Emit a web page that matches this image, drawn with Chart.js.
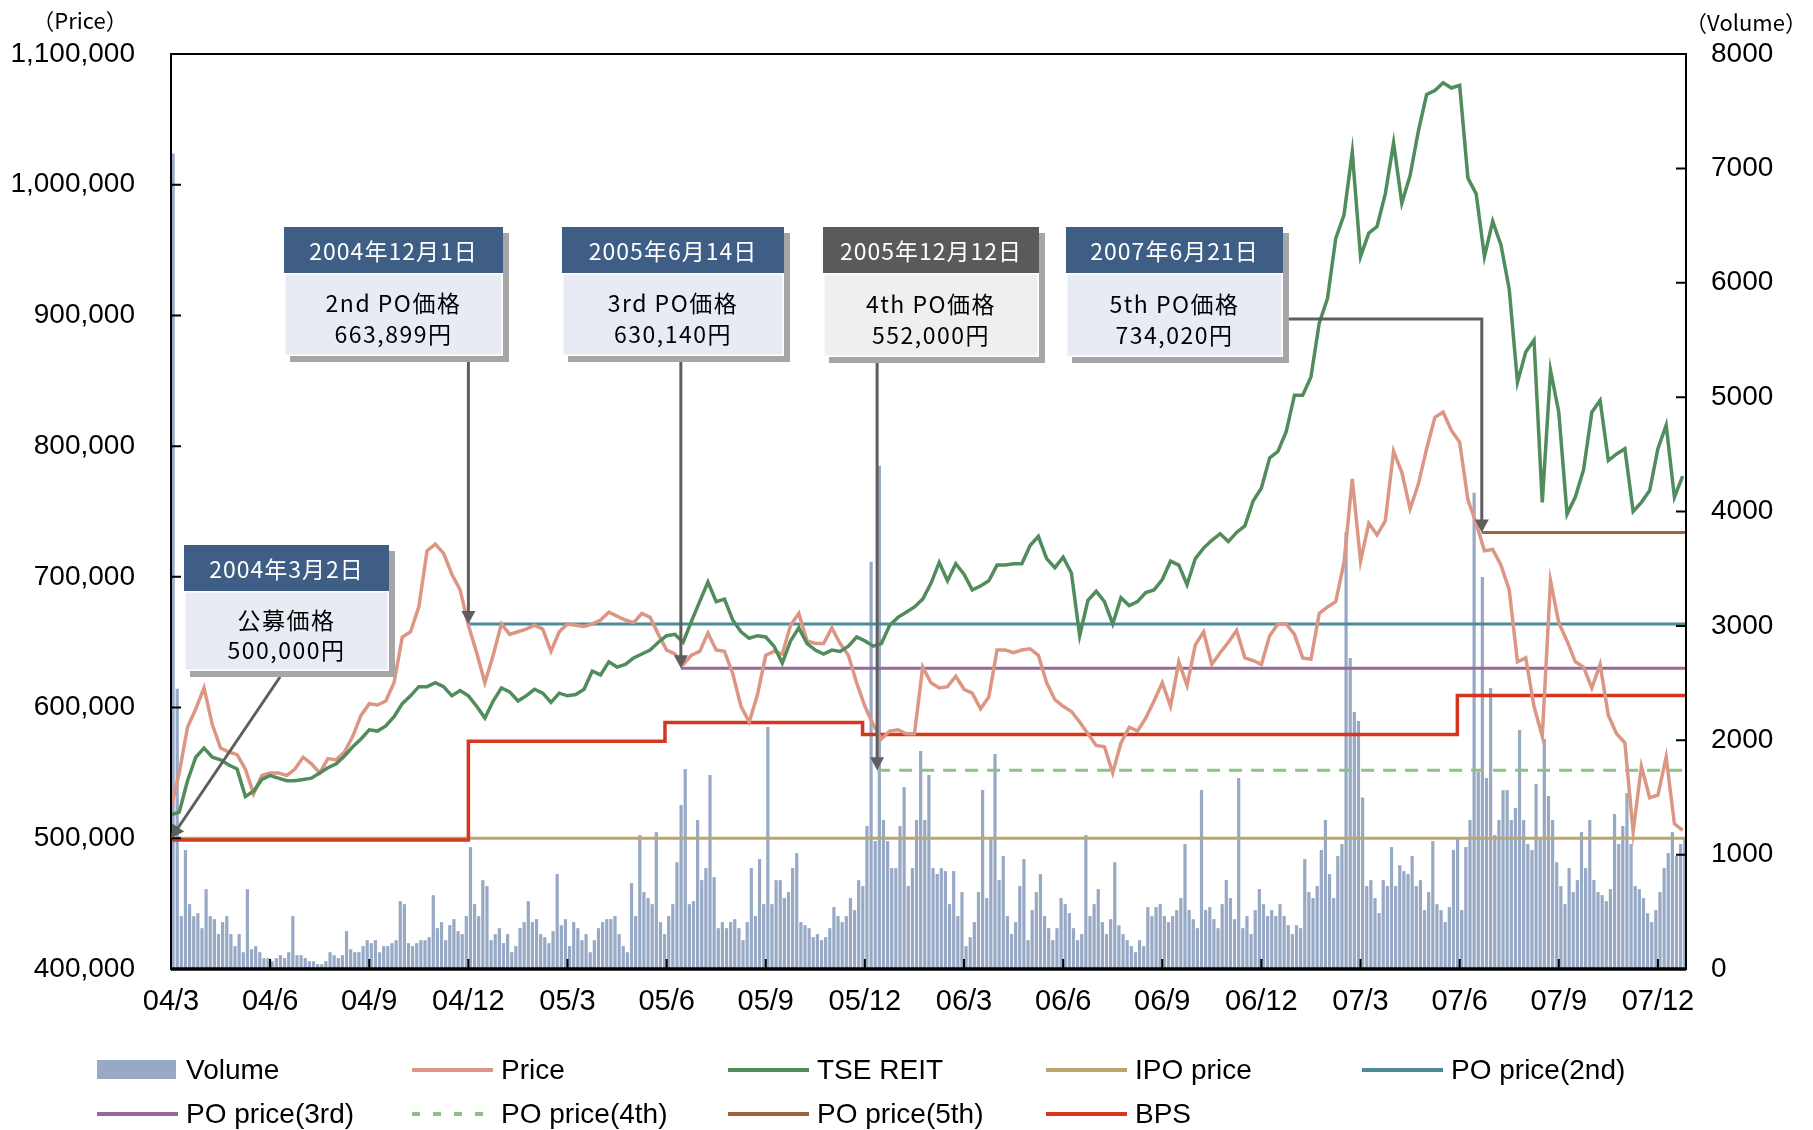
<!DOCTYPE html>
<html>
<head>
<meta charset="utf-8">
<title>Price, volume and TSE REIT</title>
<script src="https://cdn.jsdelivr.net/npm/chart.js@4.4.1/dist/chart.umd.min.js"></script>
<style>
  html, body { margin: 0; padding: 0; background: #fff; }
  canvas { display: block; }
</style>
</head>
<body>
<canvas id="myChart" width="1813" height="1130"></canvas>
<script>
// x is counted in months from the start of 2004/3
// price and TSE REIT (scaled to the price axis), one value per quarter month, thousand yen
const weekStep = 0.25;
const priceK = [
    523, 550, 585, 599, 615, 587, 569, 566,
    564, 553, 534, 548, 550, 550, 548, 553,
    562, 557, 550, 561, 560, 566, 578, 594,
    603, 602, 605, 619, 654, 658, 677, 720,
    725, 718, 702, 690, 663, 642, 619, 640,
    664, 656, 658, 660, 663, 660, 643, 658,
    664, 663, 662, 664, 667, 673, 670, 667,
    665, 672, 669, 656, 644, 641, 633, 640,
    643, 657, 644, 643, 626, 601, 589, 610,
    640, 643, 641, 663, 672, 651, 649, 649,
    661, 649, 640, 619, 601, 587, 576, 582,
    583, 580, 580, 631, 619, 615, 616, 624,
    614, 611, 599, 608, 644, 644, 642, 644,
    645, 640, 619, 606, 601, 597, 589, 580,
    571, 570, 550, 573, 585, 582, 592, 605,
    619, 601, 635, 617, 648, 658, 633, 642,
    650, 659, 638, 636, 633, 655, 664, 664,
    656, 638, 637, 672, 677, 681, 711, 775,
    712, 741, 732, 743, 796, 780, 752, 771,
    798, 822, 826, 812, 803, 759, 741, 720,
    721, 709, 690, 635, 638, 601, 578, 697,
    665, 651, 635, 631, 615, 633, 594, 580,
    573, 505, 555, 531, 533, 562, 511, 506
];
const reitK = [
    518, 520, 544, 562, 569, 562, 560, 556,
    553, 532, 536, 545, 548, 546, 544, 544,
    545, 546, 550, 554, 557, 563, 570, 576,
    583, 582, 586, 593, 603, 609, 616, 616,
    619, 616, 609, 613, 609, 601, 592, 605,
    615, 612, 605, 609, 614, 611, 604, 611,
    609, 610, 614, 628, 625, 635, 631, 633,
    638, 641, 644, 650, 655, 656, 650, 666,
    681, 696, 681, 683, 667, 658, 653, 655,
    654, 647, 634, 651, 661, 649, 644, 641,
    644, 643, 647, 654, 651, 647, 649, 663,
    669, 673, 677, 683, 695, 711, 697, 710,
    702, 690, 693, 697, 709, 709, 710, 710,
    724, 731, 714, 707, 715, 703, 655, 682,
    689, 681, 664, 684, 678, 681, 688, 690,
    698, 712, 709, 694, 714, 722, 728, 733,
    727, 734, 739, 758, 768, 791, 796, 811,
    839, 839, 853, 894, 913, 959, 977, 1025,
    945, 963, 968, 993, 1032, 986, 1007, 1041,
    1069, 1072, 1078, 1074, 1076, 1005, 993, 945,
    972, 954, 920, 849, 872, 881, 757, 858,
    826, 748, 761, 782, 826, 835, 789, 794,
    798, 750, 757, 766, 798, 816, 761, 777
];
// volume, one value per eighth of a month (one row per month)
const volStep = 0.125;
const volume = [
    7130, 2450, 462, 1040, 567, 462, 488, 357,
    698, 462, 436, 305, 410, 462, 305, 200,
    305, 147, 698, 173, 200, 147, 95, 95,
    68, 95, 121, 95, 147, 462, 121, 121,
    95, 68, 68, 42, 42, 68, 147, 121,
    95, 121, 331, 173, 147, 147, 200, 252,
    226, 252, 147, 200, 200, 226, 252, 593,
    567, 226, 200, 226, 252, 252, 278, 646,
    357, 410, 252, 383, 436, 331, 305, 462,
    1066, 567, 462, 777, 725, 252, 305, 357,
    226, 305, 147, 200, 357, 410, 593, 410,
    436, 305, 278, 226, 331, 830, 383, 436,
    200, 410, 357, 252, 305, 147, 252, 357,
    410, 436, 436, 462, 305, 200, 147, 751,
    462, 1171, 672, 620, 567, 1197, 410, 305,
    462, 567, 934, 1433, 1748, 567, 593, 1302,
    777, 882, 1696, 803, 357, 410, 357, 410,
    436, 357, 252, 410, 882, 462, 961, 567,
    2116, 567, 777, 777, 620, 672, 882, 1013,
    410, 383, 357, 278, 305, 252, 278, 357,
    541, 462, 410, 462, 620, 515, 777, 725,
    1250, 3560, 1118, 4400, 1302, 1118, 882, 882,
    1250, 1590, 725, 882, 1302, 1906, 1302, 1696,
    882, 830, 882, 856, 567, 856, 462, 672,
    200, 278, 410, 672, 1564, 620, 1145, 1880,
    777, 987, 462, 305, 410, 725, 961, 252,
    515, 672, 830, 462, 357, 252, 357, 620,
    567, 488, 357, 252, 305, 1171, 462, 567,
    698, 410, 305, 436, 934, 383, 305, 252,
    200, 147, 252, 200, 541, 462, 541, 567,
    462, 410, 462, 515, 620, 1092, 515, 436,
    357, 1564, 515, 541, 436, 357, 567, 777,
    620, 436, 1670, 357, 462, 305, 515, 698,
    567, 462, 515, 462, 567, 462, 383, 305,
    383, 357, 961, 672, 620, 725, 1040, 1302,
    830, 620, 987, 1092, 3820, 2720, 2247, 2168,
    1500, 725, 777, 620, 488, 777, 725, 1066,
    725, 908, 856, 830, 987, 725, 777, 515,
    672, 1118, 567, 515, 410, 541, 1040, 1145,
    515, 1066, 1302, 4163, 1722, 3428, 1670, 2457,
    1171, 1302, 1564, 1564, 1302, 1407, 2090, 1302,
    1092, 1040, 1617, 1145, 2011, 1512, 1302, 934,
    725, 567, 882, 672, 777, 1197, 882, 1302,
    777, 672, 646, 593, 698, 1355, 1092, 1250,
    1538, 1092, 725, 698, 620, 488, 410, 515,
    672, 882, 1013, 1197, 987, 1092, 1145
];
const bpsMonths = [0, 9, 14.95, 20.93, 38.93];
const bpsValues = [498600, 574300, 588500, 579400, 609200];

const offerLabels = ['IPO price', 'PO price(2nd)', 'PO price(3rd)', 'PO price(4th)', 'PO price(5th)'];
const offerMonths = [0, 9, 15.43, 21.37, 39.67];
const offerPrices = [500000, 663899, 630140, 552000, 734020];

const noteDates = ['2004年3月2日', '2004年12月1日', '2005年6月14日', '2005年12月12日', '2007年6月21日'];
const noteTitles = ['公募価格', '2nd PO価格', '3rd PO価格', '4th PO価格', '5th PO価格'];
const noteAmounts = ['500,000円', '663,899円', '630,140円', '552,000円', '734,020円'];

const xTickMonths = [0, 3, 6, 9, 12, 15, 18, 21, 24, 27, 30, 33, 36, 39, 42, 45];
const xTickLabels = ['04/3', '04/6', '04/9', '04/12', '05/3', '05/6', '05/9', '05/12',
                     '06/3', '06/6', '06/9', '06/12', '07/3', '07/6', '07/9', '07/12'];
const lastMonth = 45.85;

// ---- styles / layout ----
const offerColors = ['#BCA66C', '#4E8A9A', '#9B679A', '#8DC186', '#A0633F'];
const sansFont = '"Liberation Sans", Arial, sans-serif';
const jpFont = '"Noto Sans CJK JP", sans-serif';
const noteBoxes = [
    { x: 184, y: 545, w: 205, head: 46, body: 80, dark: false, arrow: 'diag', startDx: 96 },
    { x: 284, y: 227, w: 219, head: 46, body: 83, dark: false, arrow: 'down' },
    { x: 562, y: 227, w: 222, head: 46, body: 83, dark: false, arrow: 'down' },
    { x: 823, y: 227, w: 216, head: 46, body: 84, dark: true, arrow: 'down' },
    { x: 1066, y: 227, w: 217, head: 46, body: 84, dark: false, arrow: 'elbow', elbowDy: 92 }
];
const legendCols = [97, 412, 728, 1046, 1362];
const legendRows = [1070, 1114];

const toPoints = (vals, step, k, shift) => vals.map((v, i) => ({ x: (i + (shift || 0)) * step, y: v * k }));

const bpsData = bpsMonths.map((m, i) => ({ x: m, y: bpsValues[i] }));
bpsData.push({ x: lastMonth, y: bpsValues[bpsValues.length - 1] });

const datasets = [
    {
        type: 'bar', label: 'Volume', yAxisID: 'y1', order: 20,
        // each bar sits in the middle of its eighth-of-a-month slot
        data: toPoints(volume, volStep, 1, 0.5),
        backgroundColor: '#97A9C5', borderWidth: 0,
        barPercentage: 0.78, categoryPercentage: 1
    },
    {
        type: 'line', label: 'Price', yAxisID: 'y', order: 2,
        data: toPoints(priceK, weekStep, 1000),
        borderColor: '#DC9684', borderWidth: 3.5, pointRadius: 0, tension: 0
    },
    {
        type: 'line', label: 'TSE REIT', yAxisID: 'y', order: 1,
        data: toPoints(reitK, weekStep, 1000),
        borderColor: '#518C5C', borderWidth: 3.5, pointRadius: 0, tension: 0
    }
];
offerLabels.forEach((label, i) => {
    datasets.push({
        type: 'line', label: label, yAxisID: 'y', order: 10 - i,
        data: [{ x: offerMonths[i], y: offerPrices[i] }, { x: lastMonth, y: offerPrices[i] }],
        borderColor: offerColors[i], borderWidth: 3, pointRadius: 0,
        borderDash: i === 3 ? [13, 9] : []
    });
});
datasets.push({
    type: 'line', label: 'BPS', yAxisID: 'y', order: 3,
    data: bpsData, stepped: true,
    borderColor: '#D5361F', borderWidth: 3.5, pointRadius: 0
});

function arrowHead(ctx, x1, y1, x2, y2) {
    const a = Math.atan2(y2 - y1, x2 - x1);
    const len = 13, half = 7;
    ctx.beginPath();
    ctx.moveTo(x2, y2);
    ctx.lineTo(x2 - len * Math.cos(a) + half * Math.sin(a), y2 - len * Math.sin(a) - half * Math.cos(a));
    ctx.lineTo(x2 - len * Math.cos(a) - half * Math.sin(a), y2 - len * Math.sin(a) + half * Math.cos(a));
    ctx.closePath();
    ctx.fill();
}

const decorPlugin = {
    id: 'decor',
    afterDraw(chart) {
        const { ctx, chartArea: a, scales } = chart;
        ctx.save();

        // inward tick marks
        ctx.strokeStyle = '#000';
        ctx.lineWidth = 2;
        ctx.beginPath();
        scales.x.ticks.forEach(t => {
            const px = scales.x.getPixelForValue(t.value);
            ctx.moveTo(px, a.bottom); ctx.lineTo(px, a.bottom - 10);
        });
        scales.y.ticks.forEach(t => {
            const py = scales.y.getPixelForValue(t.value);
            ctx.moveTo(a.left, py); ctx.lineTo(a.left + 10, py);
        });
        scales.y1.ticks.forEach(t => {
            const py = scales.y1.getPixelForValue(t.value);
            ctx.moveTo(a.right, py); ctx.lineTo(a.right - 10, py);
        });
        ctx.stroke();

        // frame
        ctx.strokeRect(a.left, a.top, a.right - a.left, a.bottom - a.top);
        ctx.lineWidth = 3.5;
        ctx.beginPath();
        ctx.moveTo(a.left, a.bottom); ctx.lineTo(a.right, a.bottom);
        ctx.stroke();

        // axis titles
        ctx.fillStyle = '#000';
        ctx.font = '22px ' + jpFont;
        ctx.textAlign = 'center';
        ctx.textBaseline = 'middle';
        ctx.fillText('（Price）', 80, 21);
        ctx.fillText('（Volume）', 1746, 23);

        // callouts
        noteBoxes.forEach((b, i) => {
            const tx = scales.x.getPixelForValue(offerMonths[i]);
            const ty = scales.y.getPixelForValue(offerPrices[i]);
            const bottom = b.y + b.head + b.body + 6;
            ctx.strokeStyle = '#5E5E5E';
            ctx.fillStyle = '#5E5E5E';
            ctx.lineWidth = 3;
            ctx.beginPath();
            let fx, fy;
            if (b.arrow === 'diag') {
                fx = b.x + b.startDx; fy = bottom;
                ctx.moveTo(fx, fy);
            } else if (b.arrow === 'down') {
                fx = tx; fy = bottom;
                ctx.moveTo(fx, fy);
            } else {
                ctx.moveTo(b.x + b.w + 6, b.y + b.elbowDy);
                ctx.lineTo(tx, b.y + b.elbowDy);
                fx = tx; fy = b.y + b.elbowDy;
            }
            const ang = Math.atan2(ty - fy, tx - fx);
            ctx.lineTo(tx - 10 * Math.cos(ang), ty - 10 * Math.sin(ang));
            ctx.stroke();
            arrowHead(ctx, fx, fy, tx, ty);

            // box
            ctx.fillStyle = '#A6A6A6';
            ctx.fillRect(b.x + 6, b.y + 6, b.w, b.head + b.body);
            ctx.fillStyle = b.dark ? '#5A5A5A' : '#3E5E86';
            ctx.fillRect(b.x, b.y, b.w, b.head);
            ctx.fillStyle = b.dark ? '#EFEFEF' : '#E8EBF3';
            ctx.fillRect(b.x, b.y + b.head, b.w, b.body);
            ctx.strokeStyle = '#FFFFFF';
            ctx.lineWidth = 1.5;
            ctx.strokeRect(b.x + 0.75, b.y + b.head + 0.75, b.w - 1.5, b.body - 1.5);

            const cx = b.x + b.w / 2;
            ctx.textAlign = 'center';
            ctx.textBaseline = 'middle';
            ctx.font = '23px ' + jpFont;
            ctx.letterSpacing = '1px';
            ctx.fillStyle = '#FFFFFF';
            ctx.fillText(noteDates[i], cx, b.y + b.head / 2 + 1);
            ctx.fillStyle = '#000';
            ctx.letterSpacing = '1.5px';
            ctx.fillText(noteTitles[i], cx, b.y + b.head + b.body * 0.37);
            ctx.fillText(noteAmounts[i], cx, b.y + b.head + b.body * 0.74);
            ctx.letterSpacing = '0px';
        });

        // legend, built from the datasets in their order
        chart.data.datasets.forEach((ds, i) => {
            const x = legendCols[i % 5];
            const y = legendRows[Math.floor(i / 5)];
            if (ds.type === 'bar') {
                ctx.fillStyle = ds.backgroundColor;
                ctx.fillRect(x, y - 10, 79, 19);
            } else {
                ctx.strokeStyle = ds.borderColor;
                ctx.lineWidth = 4;
                ctx.setLineDash(ds.borderDash && ds.borderDash.length ? [8, 13] : []);
                ctx.beginPath();
                ctx.moveTo(x, y); ctx.lineTo(x + 81, y);
                ctx.stroke();
                ctx.setLineDash([]);
            }
            ctx.fillStyle = '#000';
            ctx.font = '28px ' + sansFont;
            ctx.textAlign = 'left';
            ctx.textBaseline = 'middle';
            ctx.fillText(ds.label, x + 89, y + 1);
        });
        ctx.restore();
    }
};

Chart.defaults.font.family = sansFont;
Chart.defaults.color = '#000';

new Chart(document.getElementById('myChart'), {
    data: { datasets: datasets },
    options: {
        responsive: false,
        animation: false,
        devicePixelRatio: 1,
        events: [],
        layout: { padding: { top: 54, left: 0, right: 0, bottom: 0 } },
        plugins: { legend: { display: false }, tooltip: { enabled: false } },
        scales: {
            x: {
                type: 'linear', min: 0, max: lastMonth, offset: false,
                afterBuildTicks: (axis) => { axis.ticks = xTickMonths.map(v => ({ value: v })); },
                afterFit: (axis) => { axis.height = 161; },
                grid: { display: false, drawTicks: false, offset: false },
                border: { display: false },
                ticks: {
                    autoSkip: false, maxRotation: 0, padding: 16,
                    font: { size: 29 },
                    callback: (v) => xTickLabels[xTickMonths.indexOf(v)]
                }
            },
            y: {
                position: 'left', min: 400000, max: 1100000,
                afterFit: (axis) => { axis.width = 171; },
                grid: { display: false, drawTicks: false },
                border: { display: false },
                ticks: {
                    stepSize: 100000, padding: 36, font: { size: 28 },
                    callback: (v) => v.toLocaleString('en-US')
                }
            },
            y1: {
                position: 'right', min: 0, max: 8000,
                afterFit: (axis) => { axis.width = 127; },
                grid: { display: false, drawTicks: false },
                border: { display: false },
                ticks: { stepSize: 1000, padding: 25, font: { size: 28 }, callback: (v) => String(v) }
            }
        }
    },
    plugins: [decorPlugin]
});
</script>
</body>
</html>
